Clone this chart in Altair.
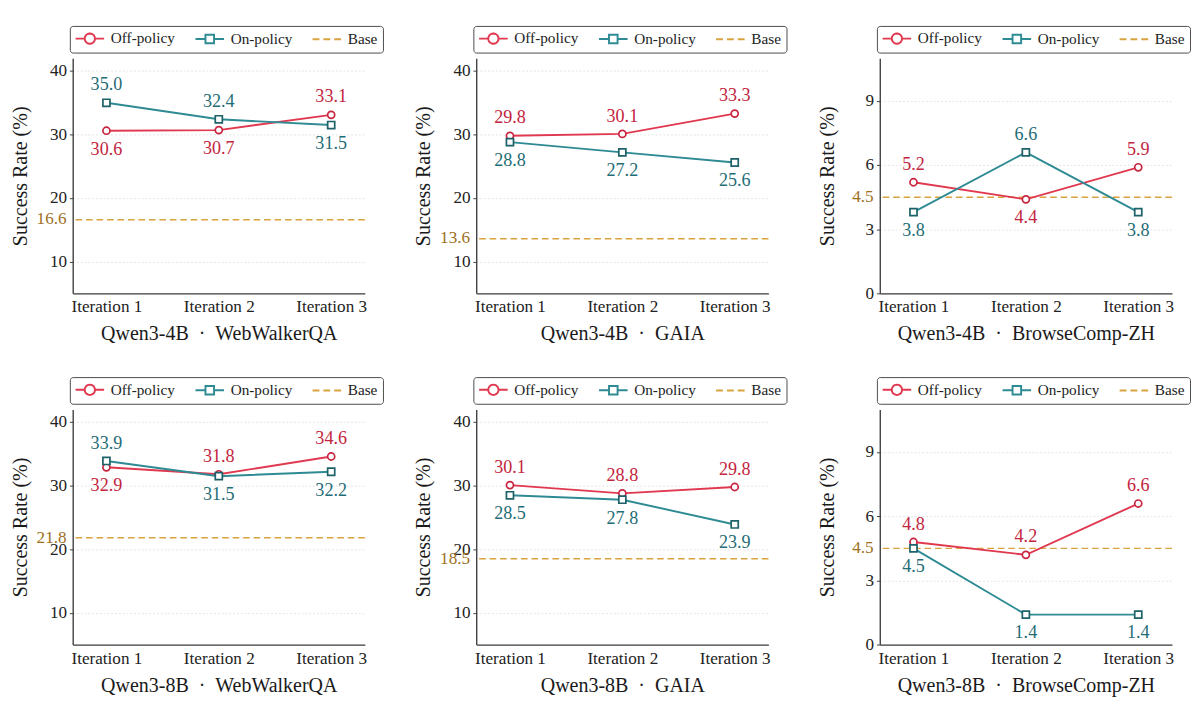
import math
import altair as alt
import pandas as pd

# ---------------- data ----------------
iterations = ["Iteration 1", "Iteration 2", "Iteration 3"]
series_names = ["Off-policy", "On-policy", "Base"]

off_4b_webwalker = [30.6, 30.7, 33.1]
on_4b_webwalker = [35.0, 32.4, 31.5]
base_4b_webwalker = 16.6

off_4b_gaia = [29.8, 30.1, 33.3]
on_4b_gaia = [28.8, 27.2, 25.6]
base_4b_gaia = 13.6

off_4b_browse = [5.2, 4.4, 5.9]
on_4b_browse = [3.8, 6.6, 3.8]
base_4b_browse = 4.5

off_8b_webwalker = [32.9, 31.8, 34.6]
on_8b_webwalker = [33.9, 31.5, 32.2]
base_8b_webwalker = 21.8

off_8b_gaia = [30.1, 28.8, 29.8]
on_8b_gaia = [28.5, 27.8, 23.9]
base_8b_gaia = 18.5

off_8b_browse = [4.8, 4.2, 6.6]
on_8b_browse = [4.5, 1.4, 1.4]
base_8b_browse = 4.5

ticks_large = [10, 20, 30, 40]
domain_large = [5, 42]
ticks_small = [0, 3, 6, 9]
domain_small = [0, 11]

# ---------------- style ----------------
FONT = "Liberation Serif"
line_colors = ["#E0384F", "#2E8A93", "#D9A340"]
marker_colors = ["#C7253F", "#1E6269"]
label_colors = ["#C2253E", "#1F6D76"]
base_label_color = "#9E6F1E"
axis_color = "#3a3a3a"

# legend glyphs (line + marker) in symbol units (1 unit = 6 px at symbolSize 144)
_cx, _r = 1.3333, 0.9
_ring = "M" + " L".join(
    f"{_cx + _r * math.cos(2 * math.pi * k / 20):.4f},{_r * math.sin(2 * math.pi * k / 20):.4f}"
    for k in range(20)) + " Z"
legend_paths = [
    f"M-1.1667,0H{_cx - _r:.4f} M{_cx + _r:.4f},0H3.8333 " + _ring,
    "M-1.1667,0H0.5833 M2.0833,0H3.8333 M0.5833,-0.75H2.0833V0.75H0.5833Z",
    "M-1.1667,0H0.0333 M0.7333,0H1.9333 M2.6333,0H3.8333",
]

W, H = 307, 247
NB = "\u00a0"


def panel(model, bench, off, on, base, y_domain, y_ticks):
    rows = []
    for i, it in enumerate(iterations):
        off_hi = off[i] >= on[i]
        rows.append(dict(iteration=it, series="Off-policy", value=off[i],
                         pos="above" if off_hi else "below", label=f"{off[i]:.1f}"))
        rows.append(dict(iteration=it, series="On-policy", value=on[i],
                         pos="below" if off_hi else "above", label=f"{on[i]:.1f}"))
    df = pd.DataFrame(rows)
    base_df = pd.DataFrame({"series": ["Base"], "value": [base], "label": [f"{base:.1f}"]})

    x = alt.X("iteration:N",
              scale=alt.Scale(type="point", padding=0.3, domain=iterations),
              axis=alt.Axis(title=f"{model}{NB}{NB}·{NB}{NB}{bench}", labelAngle=0, ticks=False,
                            labelPadding=5.5, titleY=49, titleX=W / 2, titleBaseline="alphabetic",
                            grid=False))
    y = alt.Y("value:Q",
              scale=alt.Scale(domain=y_domain, nice=False, zero=False),
              axis=alt.Axis(title="Success Rate (%)", values=y_ticks, grid=True,
                            gridDash=[2, 2], gridColor="#dcdcdc", gridWidth=0.8,
                            tickSize=3.5, labelPadding=3,
                            titleX=-49, titleY=H / 2, titleAngle=-90,
                            titleBaseline="alphabetic", titleAlign="center"))
    y_plain = alt.Y("value:Q", scale=alt.Scale(domain=y_domain, nice=False, zero=False))

    legend = alt.Legend(title=None, orient="none", legendX=-3, legendY=-34,
                        direction="horizontal", symbolSize=144, symbolStrokeWidth=2,
                        symbolOpacity=1, labelFont=FONT, labelFontSize=16,
                        labelColor="#222222", labelOffset=22, columnPadding=16,
                        padding=5, strokeColor="#444444", cornerRadius=3,
                        fillColor="white", titlePadding=0)

    base_rule = alt.Chart(base_df).mark_rule(
        strokeDash=[7, 4], strokeWidth=1.5, color=line_colors[2]
    ).encode(y=y)
    base_text = alt.Chart(base_df).mark_text(
        align="right", baseline="middle", font=FONT, fontSize=18, color=base_label_color
    ).encode(y=y_plain, x=alt.value(-6.5), text="label:N")

    lines = alt.Chart(df).mark_line(strokeWidth=2).encode(
        x=x, y=y_plain,
        stroke=alt.Stroke("series:N",
                          scale=alt.Scale(domain=series_names[:2], range=line_colors[:2]),
                          legend=None),
        detail="series:N")

    pts_off = alt.Chart(df).transform_filter(alt.datum.series == "Off-policy").mark_point(
        shape="circle", filled=True, fill="white", stroke=marker_colors[0],
        strokeWidth=1.8, size=55, opacity=1).encode(x=x, y=y_plain)
    pts_on = alt.Chart(df).transform_filter(alt.datum.series == "On-policy").mark_point(
        shape="square", filled=True, fill="white", stroke=marker_colors[1],
        strokeWidth=1.8, size=55, opacity=1).encode(x=x, y=y_plain)

    label_fill = alt.Fill("series:N", scale=alt.Scale(domain=series_names[:2], range=label_colors),
                          legend=None)
    txt_above = alt.Chart(df).transform_filter(alt.datum.pos == "above").mark_text(
        dy=-19, font=FONT, fontSize=19, baseline="middle").encode(
        x=x, y=y_plain, text="label:N", fill=label_fill)
    txt_below = alt.Chart(df).transform_filter(alt.datum.pos == "below").mark_text(
        dy=19, font=FONT, fontSize=19, baseline="middle").encode(
        x=x, y=y_plain, text="label:N", fill=label_fill)

    legend_holder = alt.Chart(df).mark_point(opacity=0).encode(
        x=x, y=y_plain,
        color=alt.Color("series:N", scale=alt.Scale(domain=series_names, range=line_colors),
                        legend=legend),
        shape=alt.Shape("series:N", scale=alt.Scale(domain=series_names, range=legend_paths),
                        legend=legend))

    return alt.layer(base_rule, base_text, lines, pts_off, pts_on, txt_above, txt_below,
                     legend_holder).properties(width=W, height=H)


p = [
    panel("Qwen3-4B", "WebWalkerQA", off_4b_webwalker, on_4b_webwalker, base_4b_webwalker, domain_large, ticks_large),
    panel("Qwen3-4B", "GAIA", off_4b_gaia, on_4b_gaia, base_4b_gaia, domain_large, ticks_large),
    panel("Qwen3-4B", "BrowseComp-ZH", off_4b_browse, on_4b_browse, base_4b_browse, domain_small, ticks_small),
    panel("Qwen3-8B", "WebWalkerQA", off_8b_webwalker, on_8b_webwalker, base_8b_webwalker, domain_large, ticks_large),
    panel("Qwen3-8B", "GAIA", off_8b_gaia, on_8b_gaia, base_8b_gaia, domain_large, ticks_large),
    panel("Qwen3-8B", "BrowseComp-ZH", off_8b_browse, on_8b_browse, base_8b_browse, domain_small, ticks_small),
]

res = dict(color="independent", shape="independent", fill="independent",
           stroke="independent", x="independent", y="independent")

row1 = alt.hconcat(*p[:3], spacing=30).resolve_scale(**res).resolve_legend(
    color="independent", shape="independent")
row2 = alt.hconcat(*p[3:], spacing=30).resolve_scale(**res).resolve_legend(
    color="independent", shape="independent")

chart = alt.vconcat(row1, row2, spacing=34).resolve_scale(**res).resolve_legend(
    color="independent", shape="independent"
).properties(
    padding={"left": 1, "top": 0, "right": 0, "bottom": 0}
).configure(
    font=FONT
).configure_view(
    stroke=None
).configure_axis(
    labelFont=FONT, labelFontSize=18, labelColor="#222222",
    titleFont=FONT, titleFontSize=21, titleFontWeight="normal", titleColor="#1a1a1a",
    domainColor=axis_color, domainWidth=1.4, tickColor=axis_color, tickWidth=1
)

chart.save("out.html", embed_options={"renderer": "svg", "actions": False})
